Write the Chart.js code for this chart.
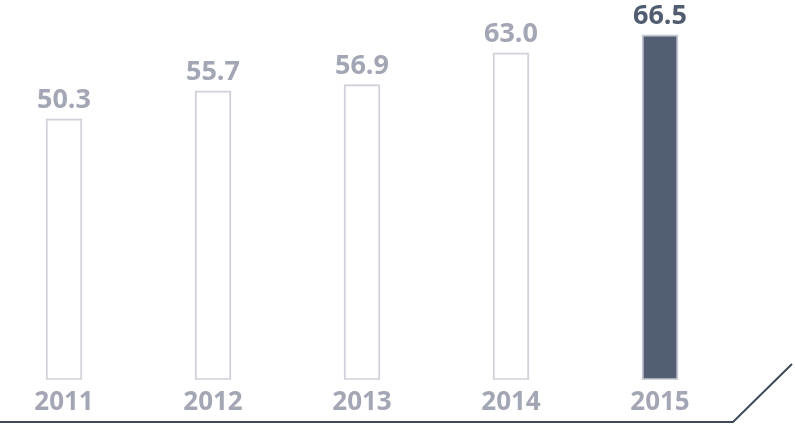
<!DOCTYPE html>
<html>
<head>
<meta charset="utf-8">
<script src="https://cdn.jsdelivr.net/npm/chart.js@4"></script>
<style>
html,body{margin:0;padding:0;background:#fff;}
#wrap{position:absolute;left:0;top:0;width:795px;height:429px;}
</style>
</head>
<body>
<div id="wrap"><canvas id="c"></canvas></div>
<script>
const years = ['2011','2012','2013','2014','2015'];
const values = [50.3, 55.7, 56.9, 63.0, 66.5];
const highlightIndex = 4;

const GRAY_TEXT = '#a3a6b4';
const DARK = '#505c70';

const valueLabels = {
  id: 'valueLabels',
  afterDatasetsDraw(chart) {
    const ctx = chart.ctx;
    const meta = chart.getDatasetMeta(0);
    ctx.save();
    ctx.font = 'bold 27px "Open Sans"';
    ctx.textAlign = 'center';
    ctx.textBaseline = 'alphabetic';
    meta.data.forEach((bar, i) => {
      ctx.fillStyle = i === highlightIndex ? DARK : GRAY_TEXT;
      ctx.fillText(values[i].toFixed(1), bar.x, bar.y - 11);
    });
    ctx.restore();
  }
};

const baseLine = {
  id: 'baseLine',
  afterDraw(chart) {
    const ctx = chart.ctx;
    ctx.save();
    ctx.strokeStyle = '#3e4a5c';
    ctx.lineWidth = 2;
    ctx.beginPath();
    ctx.moveTo(0, 422);
    ctx.lineTo(733, 422);
    ctx.lineTo(792, 364);
    ctx.stroke();
    ctx.restore();
  }
};

new Chart(document.getElementById('c'), {
  type: 'bar',
  data: {
    datasets: [{
      data: values.map((v, i) => ({x: i, y: v})),
      backgroundColor: values.map((v, i) => i === highlightIndex ? '#525f73' : '#ffffff'),
      borderColor: values.map((v, i) => i === highlightIndex ? '#c4c7cf' : '#d0d2db'),
      borderWidth: 2,
      barThickness: 36,
      borderSkipped: false
    }]
  },
  options: {
    responsive: true,
    maintainAspectRatio: false,
    animation: false,
    layout: {padding: {top: 0, bottom: 4, left: 0, right: 0}},
    plugins: {legend: {display: false}, tooltip: {enabled: false}},
    scales: {
      x: {
        type: 'linear',
        offset: false,
        min: -0.4295,
        max: 4.906,
        grid: {display: false, drawTicks: false, offset: false},
        border: {display: false},
        afterBuildTicks: s => { s.ticks = years.map((_, i) => ({value: i})); },
        ticks: {
          padding: 7,
          color: GRAY_TEXT,
          font: {family: 'Open Sans', weight: 'bold', size: 26},
          callback: v => years[v] ?? ''
        }
      },
      y: {
        display: false,
        min: 0,
        max: 73.2
      }
    }
  },
  plugins: [valueLabels, baseLine]
});
</script>
</body>
</html>
